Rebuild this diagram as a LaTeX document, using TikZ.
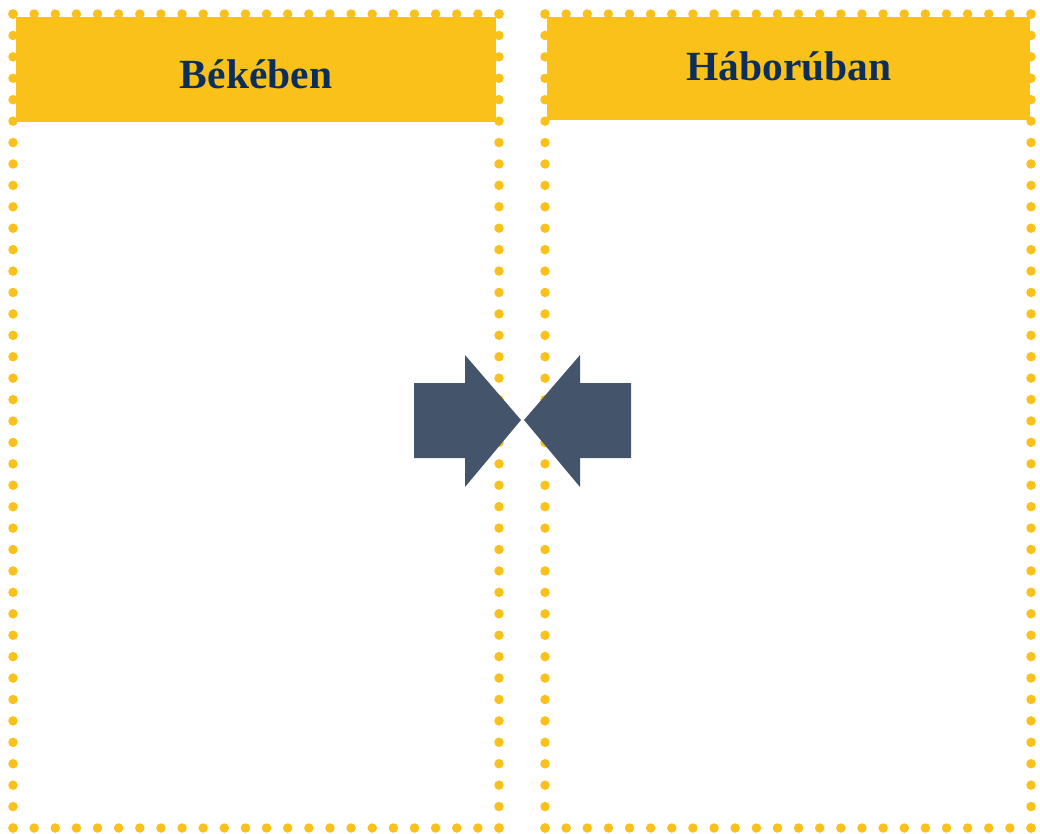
\documentclass[tikz,border=0pt]{standalone}
\usepackage{fontspec}
\newfontfamily\titlefont{Liberation Serif}
\definecolor{gold}{HTML}{FBC11B}
\definecolor{slate}{HTML}{44546A}
\definecolor{navy}{HTML}{0B2E5A}
\begin{document}
\begin{tikzpicture}[x=1pt,y=-1pt,
  dotsv/.style={draw=gold, line width=9.5pt, line cap=round, dash pattern=on 0pt off 21.42pt},
  dotsh/.style={draw=gold, line width=9.5pt, line cap=round, dash pattern=on 0pt off 21.13pt},
  header/.style={fill=gold, draw=none, inner sep=0pt},
  title/.style={text=navy, font=\titlefont\bfseries\fontsize{41.5}{48}\selectfont, inner sep=0pt, anchor=base},
  arrowshape/.style={fill=slate, draw=none}]
\useasboundingbox (0,0) rectangle (1040,833);
% headers
\fill[gold] (16,17) rectangle (496,122);
\fill[gold] (547,17) rectangle (1030,120);
% left frame
\coordinate (a1) at (13,14); \coordinate (a2) at (499,14);
\coordinate (a3) at (499,828); \coordinate (a4) at (13,828);
\draw[dotsh] (a1) -- (a2);
\draw[dotsv] (a2) -- (a3);
\draw[dotsh] (a3) -- (a4);
\draw[dotsv] (a4) -- (a1);
% right frame
\coordinate (b1) at (545,14); \coordinate (b2) at (1031,14);
\coordinate (b3) at (1031,828); \coordinate (b4) at (545,828);
\draw[dotsh] (b1) -- (b2);
\draw[dotsv] (b2) -- (b3);
\draw[dotsh] (b3) -- (b4);
\draw[dotsv] (b4) -- (b1);
% titles
\node[title] (t1) at (256,88) {Békében};
\node[title] (t2) at (789,80) {Háborúban};
% arrows
\fill[slate] (414,383) -- (465,383) -- (465,355) -- (521,420) -- (465,487) -- (465,458) -- (414,458) -- cycle;
\fill[slate] (631,383) -- (580,383) -- (580,355) -- (524,420) -- (580,487) -- (580,458) -- (631,458) -- cycle;
\end{tikzpicture}
\end{document}
